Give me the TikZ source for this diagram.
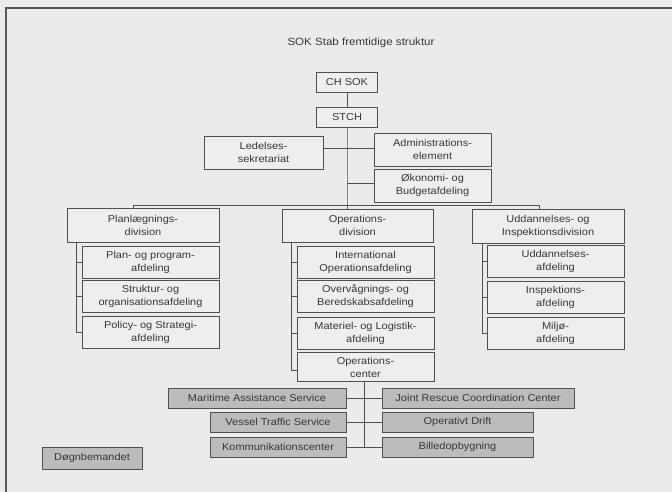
\documentclass[tikz,border=0pt]{standalone}
\usepackage{fontspec}
\setmainfont[FakeStretch=1.1]{Liberation Sans}
\definecolor{bg}{RGB}{233,235,236}
\definecolor{boxfill}{RGB}{237,238,238}
\definecolor{edge}{RGB}{80,80,80}
\definecolor{ink}{RGB}{55,55,55}
\definecolor{greyfill}{RGB}{188,188,188}
\begin{document}
\begin{tikzpicture}[x=1pt,y=-1pt,
  box/.style={draw=edge,line width=0.9pt,fill=boxfill,text=ink,align=center,inner sep=1pt,
    font=\fontsize{10}{13}\selectfont},
  gbox/.style={draw=edge,line width=0.9pt,fill=greyfill,text=ink,align=center,inner sep=1pt,
    font=\fontsize{10}{13}\selectfont},
  conn/.style={draw=edge,line width=0.9pt},
  frame/.style={draw=gray!70!black,line width=1.3pt}]
\fill[bg] (0,0) rectangle (672,492);
\useasboundingbox (0,0) rectangle (672,492);
\draw[frame] (6,492) -- (6,8) -- (672,8);
\node[text=ink,font=\fontsize{10.5}{13}\selectfont] (title) at (361,43) {SOK Stab fremtidige struktur};

% top
\node[box,minimum width=61,minimum height=20] (chsok) at (347,82) {CH SOK};
\node[box,minimum width=61,minimum height=20] (stch) at (347,117) {STCH};
\node[box,minimum width=119,minimum height=33] (led) at (263.5,152.5) {Ledelses-\\sekretariat};
\node[box,minimum width=117,minimum height=33] (adm) at (432.5,149.5) {Administrations-\\element};
\node[box,minimum width=117,minimum height=33] (oko) at (432.5,185.5) {Økonomi- og\\Budgetafdeling};

% divisions
\node[box,minimum width=152,minimum height=34] (plan) at (143,225) {Planlægnings-\\division};
\node[box,minimum width=151,minimum height=33] (ops) at (357.5,225.5) {Operations-\\division};
\node[box,minimum width=152,minimum height=34] (udd) at (548,226) {Uddannelses- og\\Inspektionsdivision};

% plan subs
\node[box,minimum width=137,minimum height=32] (p1) at (150.5,262) {Plan- og program-\\afdeling};
\node[box,minimum width=137,minimum height=32] (p2) at (150.5,296.5) {Struktur- og\\organisationsafdeling};
\node[box,minimum width=137,minimum height=32] (p3) at (150.5,332.5) {Policy- og Strategi-\\afdeling};

% ops subs
\node[box,minimum width=137,minimum height=32] (o1) at (365.5,262) {International\\Operationsafdeling};
\node[box,minimum width=137,minimum height=32] (o2) at (365.5,296.5) {Overvågnings- og\\Beredskabsafdeling};
\node[box,minimum width=137,minimum height=32] (o3) at (365.5,333) {Materiel- og Logistik-\\afdeling};
\node[box,minimum width=137,minimum height=29] (o4) at (365.5,367) {Operations-\\center};

% udd subs
\node[box,minimum width=137,minimum height=32] (u1) at (555.5,261.5) {Uddannelses-\\afdeling};
\node[box,minimum width=137,minimum height=32] (u2) at (555.5,297.5) {Inspektions-\\afdeling};
\node[box,minimum width=137,minimum height=32] (u3) at (555.5,333) {Miljø-\\afdeling};

% bottom grey boxes
\node[gbox,minimum width=178,minimum height=20] (mas) at (257,398) {Maritime Assistance Service};
\node[gbox,minimum width=192,minimum height=20] (jrcc) at (478,398) {Joint Rescue Coordination Center};
\node[gbox,minimum width=136,minimum height=20] (vts) at (278,422) {Vessel Traffic Service};
\node[gbox,minimum width=151,minimum height=20] (od) at (457.5,422) {Operativt Drift};
\node[gbox,minimum width=136,minimum height=20] (kc) at (278,447) {Kommunikationscenter};
\node[gbox,minimum width=151,minimum height=20] (bo) at (457.5,447) {Billedopbygning};
\node[gbox,minimum width=100,minimum height=22] (dog) at (92,458) {Døgnbemandet};

% connectors top
\draw[conn] (chsok.south) -- (stch.north);
\coordinate (bus) at (347,205);
\draw[conn] (stch.south) -- (bus) -- (ops.north -| bus);
\draw[conn] (led.east |- 0,148) -- (adm.west |- 0,148);
\draw[conn] (347,183) -- (oko.west |- 0,183);
\coordinate (busL) at (133,205);
\coordinate (busR) at (539,205);
\draw[conn] (plan.north -| busL) -- (busL) -- (busR) -- (udd.north -| busR);

% plan spine
\coordinate (ps) at (76,332.5);
\draw[conn] (plan.south -| ps) -- (ps) -- (p3.west);
\draw[conn] (p1.west -| ps) -- (p1.west);
\draw[conn] (p2.west -| ps) -- (p2.west);

% ops spine
\coordinate (os) at (291,370);
\draw[conn] (ops.south -| os) -- (os) -- (os -| o4.west);
\draw[conn] (o1.west -| os) -- (o1.west);
\draw[conn] (o2.west -| os) -- (o2.west);
\draw[conn] (o3.west -| os) -- (o3.west);

% udd spine
\coordinate (us) at (482,333);
\draw[conn] (udd.south -| us) -- (us) -- (u3.west);
\draw[conn] (u1.west -| us) -- (u1.west);
\draw[conn] (u2.west -| us) -- (u2.west);

% bottom trunk
\coordinate (bt) at (364,447);
\draw[conn] (o4.south -| bt) -- (bt);
\draw[conn] (mas.east) -- (jrcc.west);
\draw[conn] (vts.east) -- (od.west);
\draw[conn] (kc.east) -- (bo.west);
\end{tikzpicture}
\end{document}
